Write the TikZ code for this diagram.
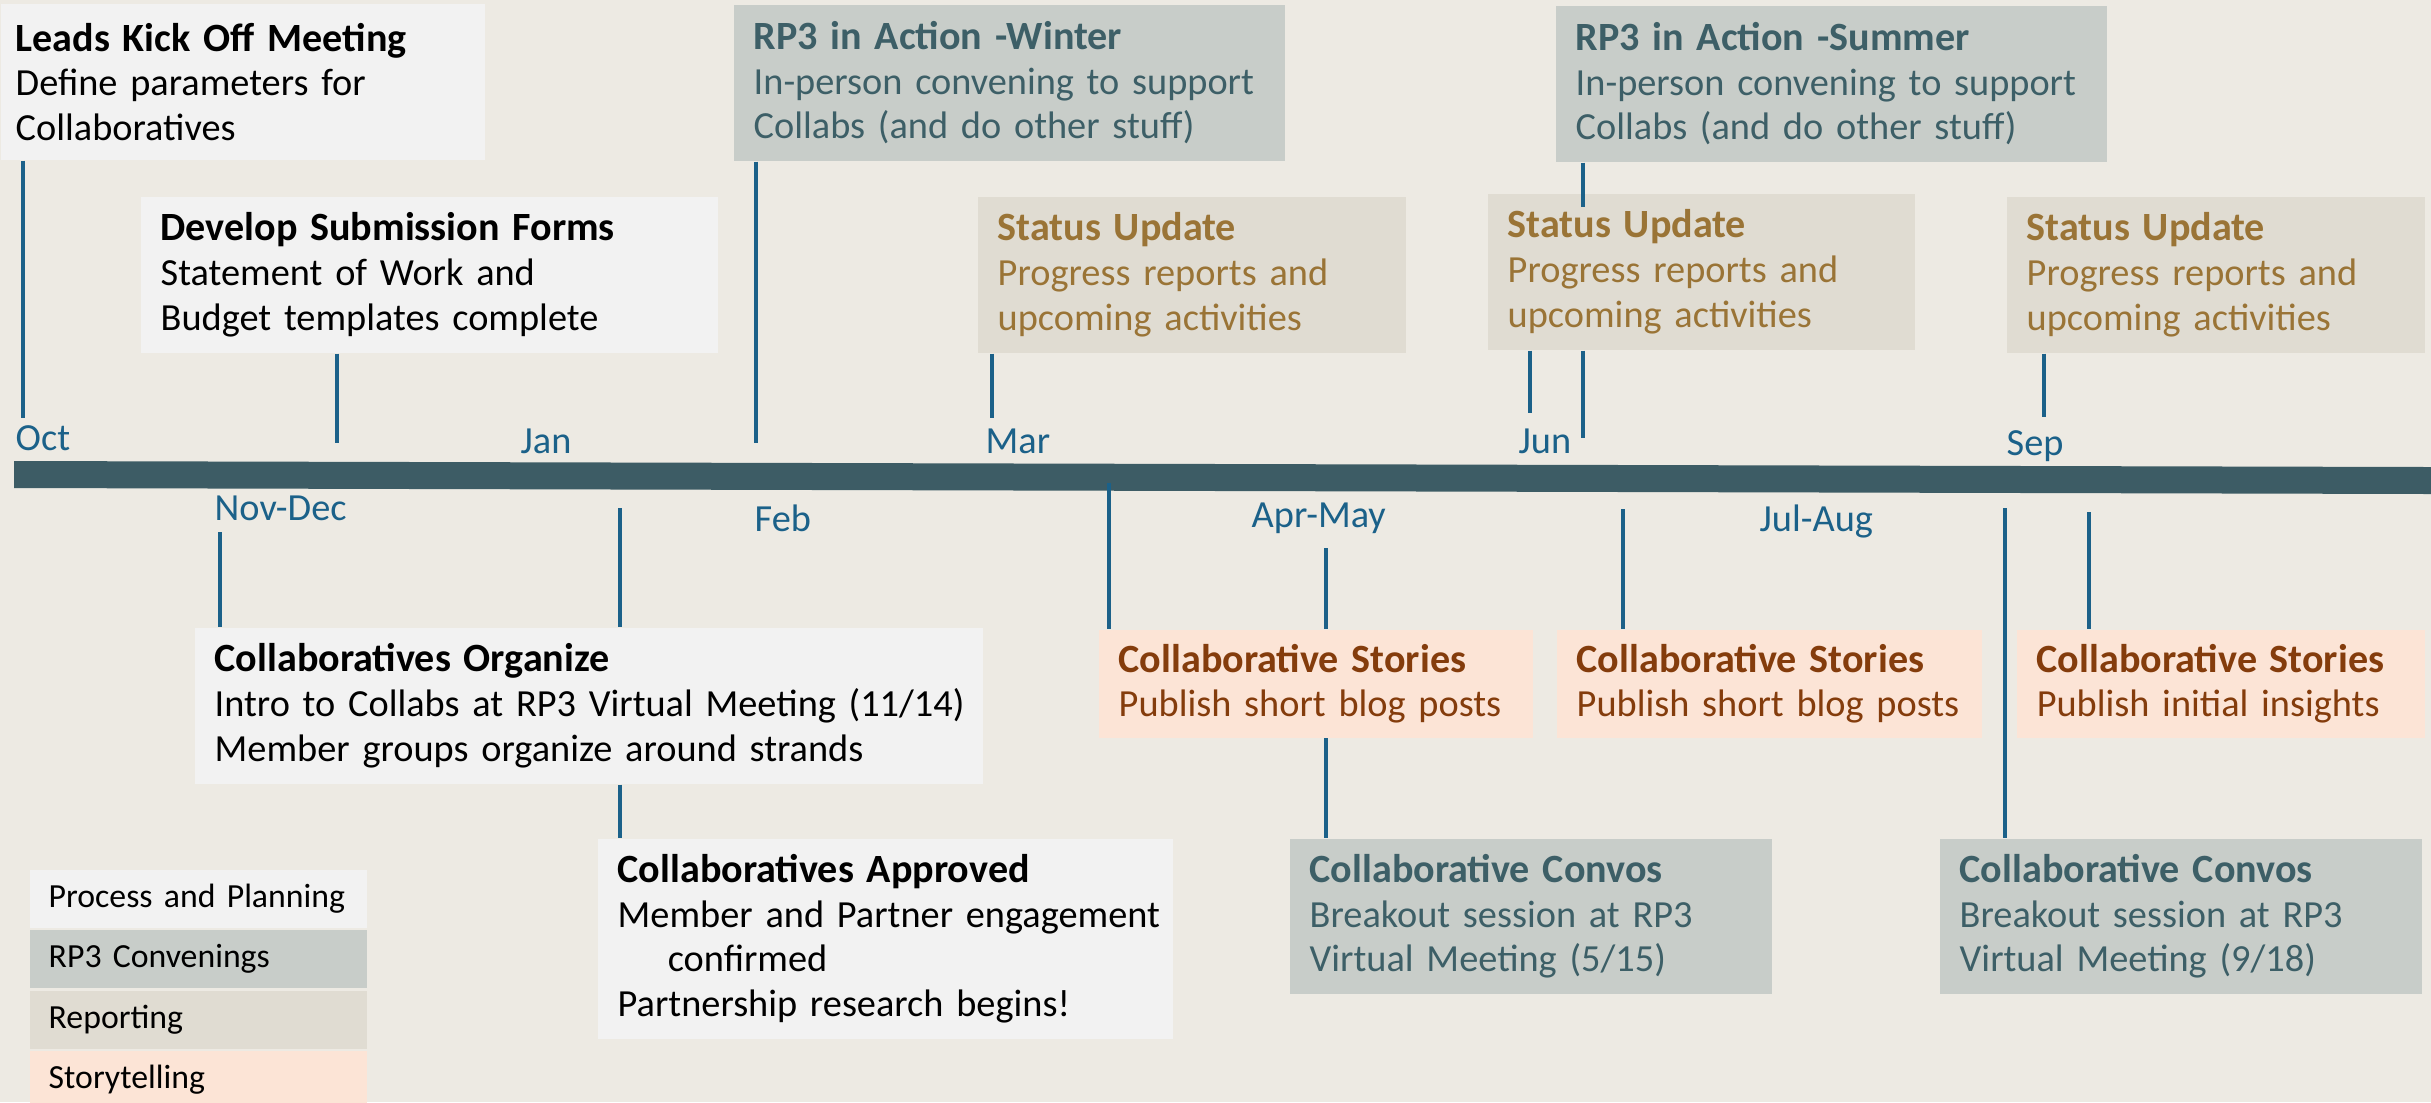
\documentclass[tikz,border=0pt]{standalone}
\usepackage{fontspec}
\setmainfont{Carlito}
\usetikzlibrary{positioning}

\definecolor{bgcol}{HTML}{EDEAE3}
\definecolor{planfill}{HTML}{F2F2F2}
\definecolor{convfill}{HTML}{C8CDC9}
\definecolor{convtext}{HTML}{3D5F67}
\definecolor{repfill}{HTML}{E0DCD2}
\definecolor{reptext}{HTML}{9A7436}
\definecolor{storyfill}{HTML}{FCE4D6}
\definecolor{storytext}{HTML}{843C0C}
\definecolor{barcol}{HTML}{3D5C65}
\definecolor{leadblue}{HTML}{1B6189}

\newcommand{\cardfont}{\fontsize{10.9}{12.7}\selectfont}
\newcommand{\keyfont}{\fontsize{9.6}{11}\selectfont}
\newcommand{\ttl}[1]{{\fontsize{11.4}{12.7}\selectfont\bfseries #1}}
\hyphenpenalty=10000
\exhyphenpenalty=10000

\begin{document}
\begin{tikzpicture}[x=0.01cm,y=-0.01cm,
  card/.style={anchor=north west,inner xsep=0.2cm,inner ysep=0pt,align=left,font=\cardfont},
  plan/.style={card,fill=planfill,text=black},
  conv/.style={card,fill=convfill,text=convtext},
  rep/.style={card,fill=repfill,text=reptext},
  story/.style={card,fill=storyfill,text=storytext},
  lead/.style={draw=leadblue,line width=1.1pt},
  month/.style={anchor=base west,inner sep=0pt,text=leadblue,font=\cardfont},
  key/.style={anchor=north west,inner xsep=0.19cm,inner ysep=0pt,text width=2.99cm,minimum height=0.58cm,align=left,font=\keyfont}]
\fill[bgcol] (0,0) rectangle (2431,1102);
\useasboundingbox (0,0) rectangle (2431,1102);
% timeline bar
\fill[barcol] (14,461) -- (2431,467) -- (2431,494) -- (14,488) -- cycle;
\foreach \x/\y/\m in {15/450/Oct,520/453/Jan,985/453/Mar,1518/453/Jun,2006/455/Sep,
  214/520/Nov-Dec,754/531/Feb,1251/527/Apr-May,1759/531/Jul-Aug}{
  \node[month] (m-\m) at (\x,\y) {\m};
}
% above the bar
\node[plan,text width=4.54cm,inner xsep=0.15cm,minimum height=1.56cm] (leads) at (0,3)
  {\ttl{Leads Kick Off Meeting}\\Define parameters for\\Collaboratives};
\node[plan,text width=5.37cm,minimum height=1.56cm] (forms) at (140,196)
  {\ttl{Develop Submission Forms}\\Statement of Work and\\Budget templates complete};
\node[conv,text width=5.11cm,minimum height=1.56cm] (winter) at (733,4)
  {\ttl{RP3 in Action -Winter}\\In-person convening to support\\Collabs (and do other stuff)};
\node[rep,text width=3.88cm,minimum height=1.56cm] (stat1) at (977,196)
  {\ttl{Status Update}\\Progress reports and\\upcoming activities};
\node[conv,text width=5.11cm,minimum height=1.56cm] (summer) at (1555,5)
  {\ttl{RP3 in Action -Summer}\\In-person convening to support\\Collabs (and do other stuff)};
\node[rep,text width=3.87cm,minimum height=1.56cm] (stat2) at (1487,193)
  {\ttl{Status Update}\\Progress reports and\\upcoming activities};
\node[rep,text width=3.78cm,minimum height=1.56cm] (stat3) at (2006,196)
  {\ttl{Status Update}\\Progress reports and\\upcoming activities};
% below the bar
\node[plan,text width=7.48cm,minimum height=1.56cm] (organize) at (194,627)
  {\ttl{Collaboratives Organize}\\Intro~to~Collabs~at~RP3~Virtual~Meeting~(11/14)\\Member groups organize around strands};
\node[plan,text width=5.35cm,minimum height=2cm] (approved) at (597,838)
  {\ttl{Collaboratives Approved}\\Member~and~Partner~engagement\\\hspace*{0.5cm}confirmed\\Partnership research begins!};
\node[story,text width=3.94cm,minimum height=1.08cm] (story1) at (1098,629)
  {\ttl{Collaborative Stories}\\Publish short blog posts};
\node[story,text width=3.85cm,minimum height=1.08cm] (story2) at (1556,629)
  {\ttl{Collaborative Stories}\\Publish short blog posts};
\node[story,text width=3.68cm,minimum height=1.08cm] (story3) at (2016,629)
  {\ttl{Collaborative Stories}\\Publish initial insights};
\node[conv,text width=4.42cm,minimum height=1.55cm] (convo1) at (1289,838)
  {\ttl{Collaborative Convos}\\Breakout session at RP3\\Virtual Meeting (5/15)};
\node[conv,text width=4.42cm,minimum height=1.55cm] (convo2) at (1939,838)
  {\ttl{Collaborative Convos}\\Breakout session at RP3\\Virtual Meeting (9/18)};
% legend
\node[key,fill=planfill] (k-plan) at (29,869) {Process and Planning};
\node[key,fill=convfill,below=0.01cm of k-plan] (k-conv) {RP3 Convenings};
\node[key,fill=repfill,below=0.01cm of k-conv] (k-rep) {Reporting};
\node[key,fill=storyfill,below=0.01cm of k-rep] (k-story) {Storytelling};
% leaders
\coordinate (t-leads) at (23,418);
\coordinate (t-forms) at (337,443);
\coordinate (t-winter) at (756,443);
\coordinate (t-stat1) at (992,418);
\coordinate (s-mid) at (1583,207);
\coordinate (t-summer) at (1583,438);
\coordinate (t-stat2) at (1530,413);
\coordinate (t-stat3) at (2044,417);
\draw[lead] (leads.south -| t-leads) -- (t-leads);
\draw[lead] (forms.south -| t-forms) -- (t-forms);
\draw[lead] (winter.south -| t-winter) -- (t-winter);
\draw[lead] (stat1.south -| t-stat1) -- (t-stat1);
\draw[lead] (summer.south -| s-mid) -- (s-mid);
\draw[lead] (stat2.south -| t-summer) -- (t-summer);
\draw[lead] (stat2.south -| t-stat2) -- (t-stat2);
\draw[lead] (stat3.south -| t-stat3) -- (t-stat3);
\coordinate (f-nov) at (220,532);
\coordinate (f-org) at (620,508);
\coordinate (f-story1) at (1109,483);
\coordinate (f-aprmay) at (1326,548);
\coordinate (f-story2) at (1623,509);
\coordinate (f-convo2) at (2005,508);
\coordinate (f-story3) at (2089,512);
\draw[lead] (f-nov) -- (f-nov |- organize.north);
\draw[lead] (f-org) -- (f-org |- organize.north);
\draw[lead] (organize.south -| f-org) -- (approved.north -| f-org);
\draw[lead] (f-story1) -- (f-story1 |- story1.north);
\draw[lead] (f-aprmay) -- (f-aprmay |- story1.north);
\draw[lead] (story1.south -| f-aprmay) -- (convo1.north -| f-aprmay);
\draw[lead] (f-story2) -- (f-story2 |- story2.north);
\draw[lead] (f-convo2) -- (f-convo2 |- convo2.north);
\draw[lead] (f-story3) -- (f-story3 |- story3.north);
\end{tikzpicture}
\end{document}
